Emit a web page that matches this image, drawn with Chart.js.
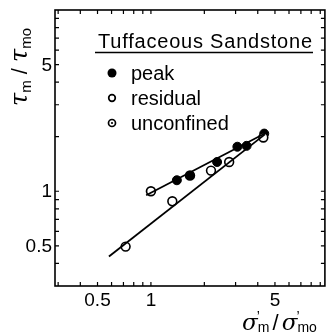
<!DOCTYPE html>
<html><head><meta charset="utf-8">
<script src="https://cdn.jsdelivr.net/npm/chart.js@4/dist/chart.umd.min.js"></script>
<style>html,body{margin:0;padding:0;background:#fff}#wrap{width:331px;height:333px;position:relative}</style>
</head><body><div id="wrap"><canvas id="c" width="331" height="333"></canvas></div>
<script>
// ---- data ----
const peakX = [1.40, 2.36, 3.07, 3.46, 4.35];
const peakY = [1.15, 1.45, 1.76, 1.78, 2.08];
const residualX = [0.72, 1.32, 2.18, 2.76, 4.30];
const residualY = [0.495, 0.88, 1.30, 1.45, 1.98];
const unconfinedX = [1.0, 1.66];
const unconfinedY = [1.0, 1.22];
const peakLineX = [0.94, 4.49];
const peakLineY = [0.95, 2.11];
const residualLineX = [0.58, 4.39];
const residualLineY = [0.436, 2.06];
const xTickValues = [0.3,0.4,0.5,0.6,0.7,0.8,0.9,1,2,3,4,5,6,7,8,9];
const yTickValues = [0.3,0.4,0.5,0.6,0.7,0.8,0.9,1,2,3,4,5,6,7,8,9,10];
const xTickLabels = {0.5:'0.5', 1:'1', 5:'5'};
const yTickLabels = {0.5:'0.5', 1:'1', 5:'5'};
const legendTitle = 'Tuffaceous Sandstone';
const legendLabels = ['peak','residual','unconfined'];

const pts = (xs, ys) => xs.map((x,i)=>({x, y: ys[i]}));
const FONT = '"Liberation Sans", Arial, sans-serif';

const framePlugin = {
  id: 'frame',
  afterDraw(chart){
    const ctx = chart.ctx, a = chart.chartArea, xs = chart.scales.x, ys = chart.scales.y;
    ctx.save();
    ctx.strokeStyle = '#000'; ctx.lineWidth = 1.6;
    ctx.strokeRect(a.left, a.top, a.right-a.left, a.bottom-a.top);
    ctx.lineWidth = 1.2;
    const tl = 4;
    xs.ticks.forEach(t => {
      const p = xs.getPixelForValue(t.value);
      if (p <= a.left+1 || p >= a.right-1) return;
      ctx.beginPath(); ctx.moveTo(p, a.bottom); ctx.lineTo(p, a.bottom-tl);
      ctx.moveTo(p, a.top); ctx.lineTo(p, a.top+tl); ctx.stroke();
    });
    ys.ticks.forEach(t => {
      const p = ys.getPixelForValue(t.value);
      if (p <= a.top+1 || p >= a.bottom-1) return;
      ctx.beginPath(); ctx.moveTo(a.left, p); ctx.lineTo(a.left+tl, p);
      ctx.moveTo(a.right, p); ctx.lineTo(a.right-tl, p); ctx.stroke();
    });
    // tick labels
    ctx.fillStyle = '#000';
    ctx.font = '19px ' + FONT;
    ctx.textAlign = 'center'; ctx.textBaseline = 'middle';
    xs.ticks.forEach(t => {
      const lab = xTickLabels[t.value];
      if (lab) ctx.fillText(lab, xs.getPixelForValue(t.value), a.bottom + 15);
    });
    ctx.textAlign = 'right';
    ys.ticks.forEach(t => {
      const lab = yTickLabels[t.value];
      if (lab) ctx.fillText(lab, a.left - 3, ys.getPixelForValue(t.value) + 1);
    });
    // y title: tau_m / tau_mo (rotated)
    ctx.save();
    ctx.translate(27, 67); ctx.rotate(-Math.PI/2);
    ctx.textAlign = 'left'; ctx.textBaseline = 'alphabetic';
    const big = 'italic 24px "DejaVu Serif", serif', sub = '15px ' + FONT, sl = '22px ' + FONT;
    const parts = [[big,'τ',0],[sub,'m',4],[sl,' / ',0],[big,'τ',0],[sub,'mo',4]];
    let w = 0;
    parts.forEach(p => { ctx.font = p[0]; w += ctx.measureText(p[1]).width; });
    let x = -w/2;
    parts.forEach(p => { ctx.font = p[0]; ctx.fillText(p[1], x, p[2]); x += ctx.measureText(p[1]).width; });
    ctx.restore();
    // x title: sigma'_m / sigma'_mo
    ctx.save();
    ctx.textAlign = 'left'; ctx.textBaseline = 'alphabetic';
    const sig = 'italic 23px "DejaVu Serif", serif';
    let xx = 242, by = 330;
    const drawSig = (subTxt) => {
      ctx.font = sig; ctx.fillText('σ', xx, by); xx += ctx.measureText('σ').width;
      ctx.font = '14px ' + FONT; ctx.fillText('\u2019', xx-1, by-9);
      ctx.fillText(subTxt, xx, by+2); xx += ctx.measureText(subTxt).width;
    };
    drawSig('m');
    ctx.font = '22px ' + FONT; ctx.fillText(' / ', xx-3, by); xx += ctx.measureText(' / ').width - 6;
    drawSig('mo');
    ctx.restore();
    // legend
    ctx.textAlign = 'left'; ctx.textBaseline = 'alphabetic';
    ctx.font = '20px ' + FONT;
    const tw = ctx.measureText(legendTitle).width, target = 214;
    const sp = Math.max(0, (target - tw) / (legendTitle.length - 1));
    try { ctx.letterSpacing = sp.toFixed(2) + 'px'; } catch(e) {}
    ctx.fillText(legendTitle, 98, 48);
    try { ctx.letterSpacing = '0px'; } catch(e) {}
    ctx.lineWidth = 1.6;
    ctx.beginPath(); ctx.moveTo(95, 52.5); ctx.lineTo(313, 52.5); ctx.stroke();
    const rowsY = [73, 98, 123];
    ctx.font = '20px ' + FONT;
    ctx.textBaseline = 'middle';
    legendLabels.forEach((lab, i) => {
      ctx.fillText(lab, 131, rowsY[i] + 1);
    });
    // legend markers
    ctx.beginPath(); ctx.arc(112, rowsY[0], 4.5, 0, Math.PI*2); ctx.fillStyle='#000'; ctx.fill();
    ctx.beginPath(); ctx.arc(112, rowsY[1], 3.3, 0, Math.PI*2); ctx.lineWidth=1.7; ctx.stroke();
    ctx.beginPath(); ctx.arc(112, rowsY[2], 3.5, 0, Math.PI*2); ctx.stroke();
    ctx.beginPath(); ctx.arc(112, rowsY[2], 1.1, 0, Math.PI*2); ctx.fill();
    ctx.restore();
  }
};

new Chart(document.getElementById('c'), {
  type: 'scatter',
  data: {
    datasets: [
      { label: 'peak line', data: pts(peakLineX, peakLineY), showLine: true, borderColor: '#000', borderWidth: 1.8, pointRadius: 0 },
      { label: 'residual line', data: pts(residualLineX, residualLineY), showLine: true, borderColor: '#000', borderWidth: 1.8, pointRadius: 0 },
      { label: 'residual', data: pts(residualX, residualY), pointRadius: 4.4, pointBackgroundColor: '#fff', pointBorderColor: '#000', pointBorderWidth: 1.6 },
      { label: 'peak', data: pts(peakX, peakY), pointRadius: 4.5, pointBackgroundColor: '#000', pointBorderColor: '#000', pointBorderWidth: 1 },
      { label: 'unconfined', data: pts(unconfinedX, unconfinedY), pointRadius: 4.4, pointBackgroundColor: ['#fff','#000'], pointBorderColor: '#000', pointBorderWidth: 1.7 },
      { label: 'unconfined centre', data: pts(unconfinedX, unconfinedY), pointRadius: 1.3, pointBackgroundColor: ['#000','#fff'], pointBorderWidth: 0 }
    ]
  },
  options: {
    responsive: false, animation: false, devicePixelRatio: 1,
    layout: { padding: { left: 0, right: 6, top: 10, bottom: 0 } },
    plugins: { legend: { display: false }, tooltip: { enabled: false } },
    scales: {
      x: { type: 'logarithmic', min: 0.288, max: 9.56,
           afterBuildTicks: s => { s.ticks = xTickValues.map(v => ({value: v})); },
           afterFit: s => { s.height = 47; },
           ticks: { display: false }, grid: { display: false }, border: { display: false } },
      y: { type: 'logarithmic', min: 0.3, max: 10,
           afterBuildTicks: s => { s.ticks = yTickValues.map(v => ({value: v})); },
           afterFit: s => { s.width = 55; },
           ticks: { display: false }, grid: { display: false }, border: { display: false } }
    }
  },
  plugins: [framePlugin]
});
</script></body></html>
